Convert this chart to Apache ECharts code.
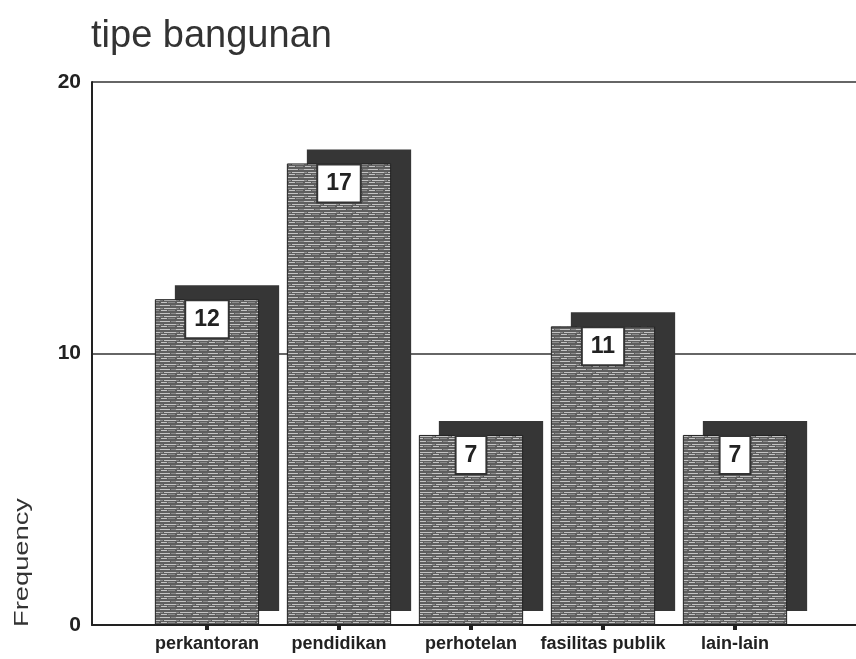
<!DOCTYPE html>
<html>
<head>
<meta charset="utf-8">
<script src="https://cdn.jsdelivr.net/npm/echarts@6/dist/echarts.min.js"></script>
<style>
  html, body { margin: 0; padding: 0; background: #fff; }
  #chart { width: 856px; height: 659px; }
</style>
</head>
<body>
<div id="chart"></div>
<script>
// data
const categories = ["perkantoran", "pendidikan", "perhotelan", "fasilitas publik", "lain-lain"];
const frequency = [12, 17, 7, 11, 7];
const yTicks = [0, 10, 20];

// grey stripey fill like the old SPSS print
function makeTexture() {
    const c = document.createElement("canvas");
    c.width = 16; c.height = 8;
    const ctx = c.getContext("2d");
    ctx.fillStyle = "#5e5e5e";
    ctx.fillRect(0, 0, 16, 8);
    ctx.fillStyle = "#c4c4c4";
    ctx.fillRect(0, 1, 10, 1);
    ctx.fillRect(4, 4, 12, 1);
    ctx.fillRect(1, 6, 6, 1);
    ctx.fillStyle = "#8c8c8c";
    ctx.fillRect(11, 1, 5, 1);
    ctx.fillRect(0, 4, 3, 1);
    ctx.fillRect(8, 6, 7, 1);
    return c;
}

const barRatio = 0.79;   // bar width vs. category band
const shadowDX = 20;     // dark block sits right and up of each bar
const shadowDY = -14;

const chart = echarts.init(document.getElementById("chart"));

chart.setOption({
    animation: false,
    title: {
        text: "tipe bangunan",
        left: 86,
        top: 13,
        textStyle: { fontFamily: "Liberation Sans, Arial", fontSize: 38, fontWeight: "normal", color: "#333" }
    },
    graphic: [{
        type: "text",
        x: 12,
        y: 627,
        rotation: Math.PI / 2,
        scaleX: 1.3,
        style: { text: "Frequency", font: "21px 'Liberation Sans', Arial", fill: "#333" }
    }],
    grid: [
        // frame: y axis + gridlines + base line
        { left: 92, right: 0, top: 82, bottom: 34 },
        // bars
        { left: 141, right: 55, top: 82, bottom: 34 }
    ],
    xAxis: [
        {
            gridIndex: 0, type: "value", min: 0, max: 1,
            axisLine: { show: true, lineStyle: { color: "#222", width: 2 } },
            axisTick: { show: false }, axisLabel: { show: false }, splitLine: { show: false }
        },
        {
            gridIndex: 1, type: "category", data: categories,
            axisLine: { show: false },
            axisTick: { show: true, alignWithLabel: true, length: 5, lineStyle: { color: "#222", width: 4 } },
            axisLabel: {
                interval: 0, hideOverlap: false, margin: 10,
                fontFamily: "Liberation Sans, Arial", fontSize: 18, fontWeight: "bold", color: "#222"
            }
        }
    ],
    yAxis: [
        {
            gridIndex: 0, type: "value", min: yTicks[0], max: yTicks[yTicks.length - 1], interval: 10,
            axisLine: { show: true, lineStyle: { color: "#222", width: 2 } },
            axisTick: { show: false },
            axisLabel: { margin: 11, fontFamily: "Liberation Sans, Arial", fontSize: 21, fontWeight: "bold", color: "#222" },
            splitLine: { show: true, lineStyle: { color: "#333", width: 1.5 } }
        },
        {
            gridIndex: 1, type: "value", min: yTicks[0], max: yTicks[yTicks.length - 1],
            show: false
        }
    ],
    series: [
        {
            // offset shadow blocks
            type: "custom",
            xAxisIndex: 1, yAxisIndex: 1,
            data: frequency.map((v, i) => [i, v]),
            renderItem(params, api) {
                const top = api.coord([api.value(0), api.value(1)]);
                const base = api.coord([api.value(0), 0]);
                const w = api.size([1, 0])[0] * barRatio;
                return {
                    type: "rect",
                    shape: { x: top[0] - w / 2 + shadowDX, y: top[1] + shadowDY, width: w, height: base[1] - top[1] },
                    style: { fill: "#363636" }
                };
            },
            z: 1
        },
        {
            type: "bar",
            xAxisIndex: 1, yAxisIndex: 1,
            data: frequency,
            barWidth: (barRatio * 100) + "%",
            itemStyle: {
                color: { image: makeTexture(), repeat: "repeat" },
                borderColor: "#222",
                borderWidth: 1
            },
            label: {
                show: true,
                position: "insideTop",
                distance: 2,
                fontFamily: "Liberation Sans, Arial",
                fontSize: 23,
                fontWeight: "bold",
                color: "#222",
                backgroundColor: "#fff",
                borderColor: "#333",
                borderWidth: 2,
                padding: [7, 8, 6, 8]
            },
            z: 2
        }
    ]
});
</script>
</body>
</html>
